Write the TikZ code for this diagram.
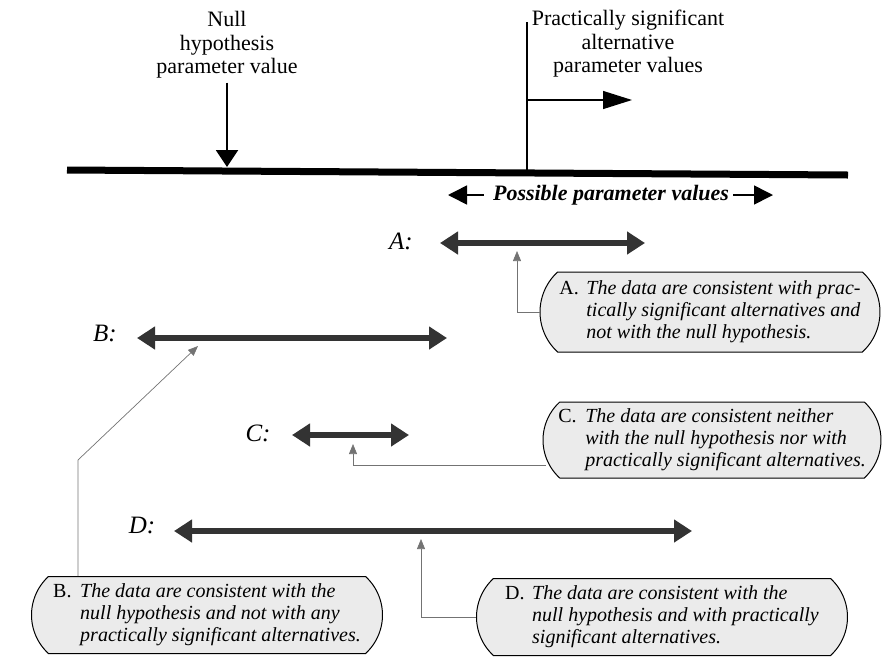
\documentclass[tikz,border=0pt]{standalone}
\usepackage{fontspec}
\setmainfont{Liberation Serif}
\usetikzlibrary{arrows.meta,shapes.misc}
\definecolor{rangegray}{gray}{0.2}
\definecolor{boxfill}{gray}{0.92}
\definecolor{conngray}{gray}{0.45}
\begin{document}
\begin{tikzpicture}[x=1pt,y=-1pt,
  headtxt/.style={font=\fontsize{22}{23.5}\selectfont, align=center, inner sep=0pt},
  lbl/.style={font=\fontsize{25}{28}\selectfont\itshape, inner sep=0pt},
  rangearrow/.style={draw=rangegray, line width=6pt,
     {Triangle[length=18pt,width=22pt]}-{Triangle[length=18pt,width=22pt]}},
  callout/.style={rounded rectangle, rounded rectangle arc length=95, draw=black,
     line width=1pt, fill=boxfill, inner sep=0pt,
     font=\fontsize{20}{22}\selectfont},
  conn/.style={draw=conngray, line width=0.7pt,
     -{Triangle[length=10pt,width=8pt]}},
  pvarrow/.style={line width=1.6pt, -{Triangle[length=19pt,width=19pt]}}
]
\useasboundingbox (0,0) rectangle (892,657);

% main axis
\coordinate (ml) at (67,170);
\coordinate (mr) at (848,175);
\draw[line width=7pt] (ml) -- (mr);

% null hypothesis
\node[headtxt] (null) at (227,45) {Null\\hypothesis\\parameter value};
\coordinate (nulltip) at (227,167);
\draw[line width=2pt, -{Triangle[length=17pt,width=22pt]}] ([yshift=-4pt]null.south) -- (nulltip);

% practically significant
\node[headtxt] (prac) at (628,44) {Practically significant\\alternative\\parameter values};
\coordinate (vtop) at (527,22);
\coordinate (vbot) at (527,171);
\coordinate (vmid) at (527,100);
\coordinate (harr) at (632,100);
\draw[line width=2.5pt] (vtop) -- (vbot);
\draw[line width=1.3pt, -{Triangle[length=29pt,width=18pt]}] (vmid) -- (harr);

% possible parameter values
\node[inner sep=0pt, font=\fontsize{22}{24}\selectfont\bfseries\itshape] (pv) at (611,195) {Possible parameter values};
\coordinate (pvl) at (448,195);
\coordinate (pvr) at (773,195);
\draw[pvarrow] ([xshift=-9pt]pv.west) -- (pvl);
\draw[pvarrow] ([xshift=4pt]pv.east) -- (pvr);

% ranges
\node[lbl] (la) at (401,241) {A:};
\coordinate (A1) at (440,243); \coordinate (A2) at (645,243);
\draw[rangearrow] (A1) -- (A2);

\node[lbl] (lb) at (105,333) {B:};
\coordinate (B1) at (137,338); \coordinate (B2) at (447,338);
\draw[rangearrow] (B1) -- (B2);

\node[lbl] (lc) at (258,433) {C:};
\coordinate (C1) at (292,435); \coordinate (C2) at (409,435);
\draw[rangearrow] (C1) -- (C2);

\node[lbl] (ld) at (142,525) {D:};
\coordinate (D1) at (174,531); \coordinate (D2) at (692,531);
\draw[rangearrow] (D1) -- (D2);

% callouts
\node[callout, minimum width=340pt, minimum height=80pt] (boxA) at (710,312)
 {\begin{tabular}{@{}p{27pt}@{}l@{}}A. & \itshape The data are consistent with prac-\\ & \itshape tically significant alternatives and\\ & \itshape not with the null hypothesis.\end{tabular}};

\node[callout, minimum width=338pt, minimum height=76pt] (boxC) at (712,440)
 {\begin{tabular}{@{}p{27pt}@{}l@{}}C. & \itshape The data are consistent neither\\ & \itshape with the null hypothesis nor with\\ & \itshape practically significant alternatives.\end{tabular}};

\node[callout, minimum width=351pt, minimum height=77pt] (boxB) at (207,615)
 {\begin{tabular}{@{}p{27pt}@{}l@{}}B. & \itshape The data are consistent with the\\ & \itshape null hypothesis and not with any\\ & \itshape practically significant alternatives.\end{tabular}};

\node[callout, minimum width=371pt, minimum height=77pt] (boxD) at (662,617)
 {\begin{tabular}{@{}p{27pt}@{}l@{}}D. & \itshape The data are consistent with the\\ & \itshape null hypothesis and with practically\\ & \itshape significant alternatives.\end{tabular}};

% connectors
\coordinate (atip) at (517,251);
\coordinate (btip) at (198,346);
\coordinate (bknee) at (78,460);
\coordinate (ctip) at (353,444);
\coordinate (clev) at (0,465);
\coordinate (dtip) at (421,539);

\draw[conn] (boxA.west) -| (atip);
\draw[conn] (bknee |- boxB.north) -- (bknee) -- (btip);
\draw[conn] ([xshift=3pt]boxC.west |- clev) -| (ctip);
\draw[conn] (boxD.west) -| (dtip);
\end{tikzpicture}
\end{document}
